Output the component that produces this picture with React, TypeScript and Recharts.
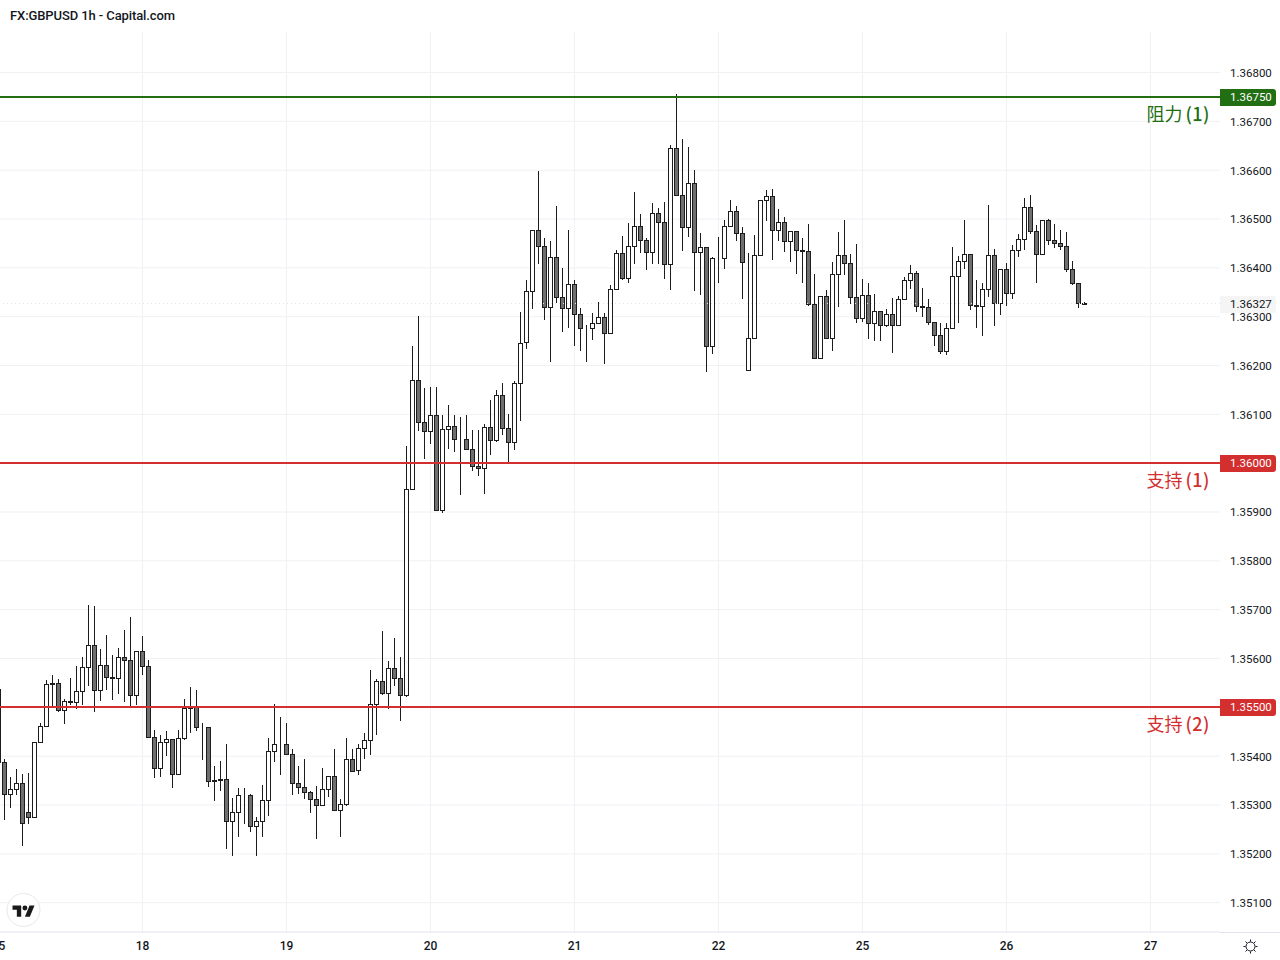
import { Bar, CartesianGrid, ComposedChart, ReferenceLine, XAxis, YAxis } from "recharts";

// hourly candles, left to right
const opens = [
  1.35538, 1.35389, 1.35322, 1.35332, 1.35346, 1.35285, 1.35276, 1.35429, 1.35461, 1.3555,
  1.3555, 1.35495, 1.35514, 1.3551, 1.35534, 1.35583, 1.35628, 1.35536, 1.35587, 1.35563,
  1.35561, 1.35603, 1.35597, 1.35526, 1.35616, 1.35585, 1.3544, 1.35375, 1.3543, 1.35436,
  1.35363, 1.35438, 1.35501, 1.35501, 1.35459, 1.35459, 1.35352, 1.35354, 1.35354, 1.35267,
  1.35285, 1.3532, 1.3532, 1.35257, 1.35267, 1.3531, 1.3541, 1.35426, 1.35426, 1.35405,
  1.35346, 1.35336, 1.35326, 1.35312, 1.35301, 1.35332, 1.35359, 1.35289, 1.35303, 1.35395,
  1.35371, 1.35416, 1.35434, 1.35507, 1.35554, 1.3553, 1.35581, 1.35561, 1.35526, 1.35948,
  1.36171, 1.36085, 1.36065, 1.36099, 1.35905, 1.36071, 1.36077, 1.3605, 1.3605, 1.3603,
  1.35995, 1.35991, 1.36075, 1.36048, 1.3614, 1.36073, 1.36044, 1.36165, 1.36249, 1.36353,
  1.36477, 1.36445, 1.3632, 1.36422, 1.36341, 1.36318, 1.36367, 1.36306, 1.36276, 1.36276,
  1.36288, 1.363, 1.36267, 1.36357, 1.36431, 1.3638, 1.36445, 1.36486, 1.36457, 1.36433,
  1.36512, 1.36494, 1.36408, 1.36645, 1.36549, 1.36484, 1.36573, 1.36433, 1.36443, 1.36241,
  1.3642, 1.3642, 1.36486, 1.36516, 1.36471, 1.3619, 1.36257, 1.36427, 1.36539, 1.36547,
  1.36478, 1.36494, 1.36455, 1.36476, 1.36437, 1.36435, 1.36327, 1.36216, 1.36343, 1.36257,
  1.36388, 1.36426, 1.3641, 1.36341, 1.36298, 1.36345, 1.36288, 1.36312, 1.36282, 1.36306,
  1.36282, 1.36337, 1.36375, 1.3639, 1.36322, 1.3632, 1.3629, 1.36263, 1.36229, 1.36276,
  1.36384, 1.36414, 1.36429, 1.36324, 1.36322, 1.36357, 1.36426, 1.36329, 1.36398, 1.36349,
  1.36437, 1.36459, 1.36524, 1.36475, 1.36429, 1.36498, 1.36457, 1.36451, 1.36445, 1.36398,
  1.36369, 1.36329,
];
const highs = [
  1.35538, 1.35394, 1.35357, 1.35373, 1.35363, 1.35365, 1.3543, 1.35469, 1.35556, 1.35567,
  1.35558, 1.35518, 1.35561, 1.35584, 1.35604, 1.3571, 1.35708, 1.3562, 1.35649, 1.35608,
  1.35622, 1.35659, 1.35686, 1.35616, 1.35647, 1.35598, 1.35454, 1.35444, 1.35451, 1.35436,
  1.35454, 1.35518, 1.35541, 1.35535, 1.35469, 1.35459, 1.3538, 1.3539, 1.35426, 1.35314,
  1.35335, 1.35335, 1.35322, 1.35275, 1.3534, 1.35437, 1.35507, 1.3548, 1.35469, 1.35414,
  1.3538, 1.35394, 1.35328, 1.35338, 1.35376, 1.35359, 1.35414, 1.35312, 1.35437, 1.35414,
  1.35425, 1.35447, 1.35577, 1.35559, 1.35657, 1.35594, 1.35643, 1.35604, 1.36035, 1.36241,
  1.36302, 1.36154, 1.36156, 1.36156, 1.36099, 1.3612, 1.36099, 1.36094, 1.36099, 1.36067,
  1.36069, 1.36081, 1.3613, 1.36149, 1.36165, 1.36101, 1.36169, 1.3631, 1.36375, 1.36477,
  1.36599, 1.36461, 1.36456, 1.36527, 1.36399, 1.36478, 1.36375, 1.36318, 1.36284, 1.36308,
  1.36331, 1.36308, 1.36365, 1.36437, 1.36466, 1.36492, 1.36555, 1.36511, 1.36461, 1.36533,
  1.36523, 1.36535, 1.36651, 1.36757, 1.36664, 1.36648, 1.366, 1.36471, 1.36443, 1.36423,
  1.36464, 1.36497, 1.36539, 1.36527, 1.36484, 1.36431, 1.36468, 1.36539, 1.3656, 1.36562,
  1.36521, 1.36505, 1.36476, 1.36476, 1.36462, 1.3649, 1.36388, 1.36343, 1.36354, 1.36411,
  1.36473, 1.36499, 1.36429, 1.36448, 1.36378, 1.36369, 1.36346, 1.36312, 1.36315, 1.36339,
  1.36343, 1.36382, 1.36405, 1.36394, 1.36359, 1.36337, 1.3629, 1.36288, 1.36288, 1.36443,
  1.36424, 1.36497, 1.36429, 1.36376, 1.36368, 1.36529, 1.36439, 1.36398, 1.3641, 1.36446,
  1.36469, 1.36543, 1.3655, 1.36488, 1.36498, 1.36501, 1.3649, 1.36478, 1.36474, 1.36415,
  1.36369, 1.36331,
];
const lows = [
  1.35388, 1.35269, 1.35294, 1.35321, 1.35216, 1.35261, 1.35276, 1.35427, 1.35461, 1.355,
  1.3549, 1.35465, 1.35504, 1.35496, 1.35504, 1.35543, 1.3549, 1.35514, 1.35535, 1.35516,
  1.35527, 1.3551, 1.35502, 1.35504, 1.35567, 1.3544, 1.35355, 1.35357, 1.354, 1.35335,
  1.35363, 1.35433, 1.35448, 1.35451, 1.35392, 1.35337, 1.35309, 1.35329, 1.3521, 1.35196,
  1.35235, 1.35261, 1.35244, 1.35196, 1.35235, 1.35278, 1.35388, 1.35361, 1.35405, 1.3532,
  1.35323, 1.35312, 1.35284, 1.35231, 1.35301, 1.35316, 1.35289, 1.35235, 1.35298, 1.35367,
  1.35361, 1.35394, 1.35402, 1.35443, 1.35526, 1.35496, 1.35543, 1.35473, 1.35522, 1.35948,
  1.36066, 1.36009, 1.36039, 1.35905, 1.35897, 1.36029, 1.36022, 1.35935, 1.3603, 1.35984,
  1.35973, 1.35937, 1.36016, 1.36043, 1.36057, 1.35998, 1.36027, 1.36086, 1.36233, 1.36315,
  1.36407, 1.36293, 1.36208, 1.36329, 1.36268, 1.36276, 1.36239, 1.36229, 1.36208, 1.36252,
  1.36286, 1.36203, 1.36267, 1.36357, 1.36376, 1.36368, 1.36407, 1.36431, 1.36395, 1.36407,
  1.36407, 1.36378, 1.36354, 1.36549, 1.36434, 1.36464, 1.36352, 1.36344, 1.36187, 1.36223,
  1.36368, 1.36397, 1.36486, 1.36454, 1.36337, 1.3619, 1.36257, 1.36427, 1.36495, 1.36417,
  1.36456, 1.36433, 1.36413, 1.36388, 1.36368, 1.36321, 1.36213, 1.36216, 1.36257, 1.36229,
  1.36319, 1.36386, 1.36327, 1.36288, 1.3629, 1.36254, 1.3625, 1.3625, 1.36278, 1.36225,
  1.36282, 1.36337, 1.36357, 1.36309, 1.36299, 1.36284, 1.36239, 1.36223, 1.36221, 1.36276,
  1.36288, 1.36397, 1.36313, 1.36276, 1.3626, 1.36341, 1.3628, 1.36303, 1.36321, 1.36337,
  1.36423, 1.36437, 1.3647, 1.3637, 1.36429, 1.36446, 1.36441, 1.36437, 1.36392, 1.36364,
  1.36317, 1.36323,
];
const closes = [
  1.35388, 1.35322, 1.35332, 1.35346, 1.35263, 1.35276, 1.3543, 1.35461, 1.35548, 1.35548,
  1.35495, 1.35514, 1.3551, 1.35534, 1.35583, 1.35628, 1.35536, 1.35587, 1.35563, 1.3556,
  1.35603, 1.35597, 1.35526, 1.35616, 1.35585, 1.3544, 1.35375, 1.3543, 1.35435, 1.35363,
  1.35438, 1.35499, 1.35499, 1.35459, 1.35459, 1.3535, 1.3535, 1.35352, 1.35267, 1.35285,
  1.3532, 1.3532, 1.35257, 1.35267, 1.3531, 1.3541, 1.35426, 1.35426, 1.35405, 1.35346,
  1.35336, 1.35326, 1.35312, 1.35301, 1.35332, 1.35359, 1.35289, 1.35303, 1.35395, 1.35369,
  1.35416, 1.35434, 1.35507, 1.35554, 1.3553, 1.35581, 1.35561, 1.35526, 1.35948, 1.36171,
  1.36085, 1.36065, 1.36099, 1.35905, 1.36071, 1.36076, 1.3605, 1.3605, 1.3603, 1.35995,
  1.35991, 1.36075, 1.36048, 1.3614, 1.36073, 1.36044, 1.36165, 1.36246, 1.36353, 1.36477,
  1.36445, 1.3632, 1.36422, 1.36341, 1.36318, 1.36367, 1.36306, 1.36276, 1.36276, 1.36288,
  1.363, 1.36267, 1.36357, 1.36431, 1.3638, 1.36445, 1.36486, 1.36457, 1.36433, 1.36512,
  1.36494, 1.36408, 1.36645, 1.36549, 1.36484, 1.36573, 1.36433, 1.36443, 1.36241, 1.3642,
  1.3642, 1.36486, 1.36516, 1.36471, 1.36412, 1.36257, 1.36427, 1.36539, 1.36547, 1.36478,
  1.36494, 1.36455, 1.36476, 1.36437, 1.36435, 1.36327, 1.36216, 1.36343, 1.36257, 1.36388,
  1.36426, 1.3641, 1.36341, 1.36298, 1.36345, 1.36288, 1.36312, 1.36282, 1.36306, 1.36282,
  1.36337, 1.36375, 1.3639, 1.36322, 1.3632, 1.3629, 1.36263, 1.36229, 1.36276, 1.36384,
  1.36414, 1.36429, 1.36324, 1.36322, 1.36357, 1.36426, 1.36329, 1.36398, 1.36349, 1.36437,
  1.36459, 1.36524, 1.36475, 1.36429, 1.36498, 1.36457, 1.36451, 1.36445, 1.36398, 1.36369,
  1.36329, 1.36327,
];

// first candle sits one slot before index 0
const firstIndex = -1;
const dayTicks = [-1, 23, 47, 71, 95, 119, 143, 167, 191];
const dayLabels = ["15", "18", "19", "20", "21", "22", "25", "26", "27"];
// 1.355 and 1.36 are shown by the level tags instead
const priceTicks = [
  1.351, 1.352, 1.353, 1.354, 1.356, 1.357, 1.358, 1.359, 1.361, 1.362, 1.363, 1.364, 1.365, 1.366,
  1.367, 1.368,
];
const resistance = 1.3675;
const supportOne = 1.36;
const supportTwo = 1.355;
const lastPrice = 1.36327;

const candles = opens.map((open, i) => ({
  index: i + firstIndex,
  open,
  high: highs[i],
  low: lows[i],
  close: closes[i],
  range: [lows[i], highs[i]],
}));

const FONT = "Roboto, sans-serif";
const GREEN = "#226e12";
const RED = "#d32f2f";
const INK = "#131722";

function Candle(props: any) {
  const { x, width, y, height, payload } = props;
  const { open, high, low, close } = payload;
  const perPrice = height / (high - low);
  const cx = Math.floor(x + width / 2) + 0.5;
  const top = Math.round(y + (high - Math.max(open, close)) * perPrice);
  const bottom = Math.round(y + (high - Math.min(open, close)) * perPrice);
  return (
    <g>
      <line x1={cx} x2={cx} y1={Math.round(y)} y2={Math.round(y + height)} stroke="#1c1c1c" />
      <rect
        x={cx - 2}
        y={top + 0.5}
        width={4}
        height={bottom - top}
        fill={close >= open ? "#ffffff" : "#6f6f6f"}
        stroke="#1c1c1c"
      />
    </g>
  );
}

// keeps the 2px level lines on whole pixels
function LevelLine(props: any) {
  const { x1, x2, y1, stroke } = props;
  const y = Math.round(y1);
  return <line x1={x1} x2={x2} y1={y} y2={y} stroke={stroke} strokeWidth={2} />;
}

function DottedLine(props: any) {
  const { x1, x2, y1 } = props;
  const y = Math.floor(y1) + 0.5;
  return <line x1={x1} x2={x2} y1={y} y2={y} stroke="#e6e6e6" strokeDasharray="1 3" />;
}

function PriceTag(props: any) {
  const { viewBox, price, fill, color, name, num } = props;
  const right = viewBox.x + viewBox.width;
  const cy = Math.round(viewBox.y);
  return (
    <g>
      <path d={`M${right} ${cy - 8}h53a3 3 0 0 1 3 3v11a3 3 0 0 1 -3 3h-53z`} fill={fill} />
      <text x={right + 10} y={cy + 4} fill={color} fontSize={11.5} fontFamily={FONT}>
        {price}
      </text>
      {name ? (
        <text
          x={1210}
          y={cy + 24}
          textAnchor="end"
          fill={fill}
          fontSize={18}
          fontFamily="'Noto Sans CJK SC', sans-serif"
        >
          {name}
          <tspan dx={3} fontWeight={500} letterSpacing={0.5}>
            {num}
          </tspan>
        </text>
      ) : null}
    </g>
  );
}

function Overlay() {
  return (
    <>
      <div
        style={{
          position: "absolute",
          left: 10,
          top: 8,
          font: `500 13px ${FONT}`,
          lineHeight: "15px",
          color: INK,
          letterSpacing: -0.1,
          whiteSpace: "nowrap",
        }}
      >
        FX:GBPUSD 1h - Capital.com
      </div>
      <div style={{ position: "absolute", left: 1220, top: 932, width: 60, height: 1, background: "#e0e3eb" }} />
      <svg style={{ position: "absolute", left: 6, top: 893 }} width={36} height={36}>
        <circle cx={17.5} cy={17} r={16.5} fill="#fff" stroke="#e8e8e8" />
        <g transform="translate(6.5 10) scale(0.62)" fill="#1a1a1a">
          <path d="M14 22H7V11H0V4h14v18zM28 22h-8l7.5-18h8L28 22z" />
          <circle cx={20} cy={8} r={4} />
        </g>
      </svg>
      <svg style={{ position: "absolute", left: 1242, top: 938 }} width={18} height={18}>
        <circle cx={8.5} cy={8.5} r={4.5} fill="none" stroke={INK} />
        <path
          d="M8.5 1.5v2M8.5 13.5v2M1.5 8.5h2M13.5 8.5h2M3.5 3.5l1.5 1.5M12 12l1.5 1.5M13.5 3.5L12 5M5 12l-1.5 1.5"
          stroke={INK}
        />
      </svg>
    </>
  );
}

export default function App() {
  return (
    <div style={{ position: "absolute", left: 0, top: 0, width: 1280, height: 960, overflow: "hidden", background: "#fff" }}>
      <ComposedChart
        width={1280}
        height={960}
        data={candles}
        margin={{ top: 32, right: 0, bottom: 0, left: -6 }}
      >
        <CartesianGrid stroke="#f0f1f4" syncWithTicks />
        <XAxis
          dataKey="index"
          type="number"
          domain={[-1.75, 202.58333]}
          allowDataOverflow
          ticks={dayTicks}
          interval={0}
          tickFormatter={(v: number) => dayLabels[dayTicks.indexOf(v)]}
          height={28}
          axisLine={{ stroke: "#e0e3eb" }}
          tickLine={false}
          tickMargin={3}
          tick={{ fill: INK, fontSize: 12, fontWeight: 500, fontFamily: FONT }}
        />
        <YAxis
          orientation="right"
          width={60}
          domain={[1.3504, 1.36883]}
          allowDataOverflow
          ticks={priceTicks}
          interval={0}
          tickFormatter={(v: number) => v.toFixed(5)}
          axisLine={false}
          tickLine={false}
          tickMargin={4}
          tick={{ fill: INK, fontSize: 11.5, fontFamily: FONT, dy: 0.3 }}
        />
        <ReferenceLine
          y={resistance}
          stroke={GREEN}
          shape={<LevelLine />}
          label={<PriceTag price="1.36750" fill={GREEN} color="#fff" name="阻力" num="(1)" />}
        />
        <ReferenceLine
          y={supportOne}
          stroke={RED}
          shape={<LevelLine />}
          label={<PriceTag price="1.36000" fill={RED} color="#fff" name="支持" num="(1)" />}
        />
        <ReferenceLine
          y={supportTwo}
          stroke={RED}
          shape={<LevelLine />}
          label={<PriceTag price="1.35500" fill={RED} color="#fff" name="支持" num="(2)" />}
        />
        <Bar dataKey="range" barSize={6} shape={<Candle />} isAnimationActive={false} />
        <ReferenceLine
          y={lastPrice}
          shape={<DottedLine />}
          label={<PriceTag price="1.36327" fill="#f5f5f5" color={INK} />}
        />
      </ComposedChart>
      <Overlay />
    </div>
  );
}
